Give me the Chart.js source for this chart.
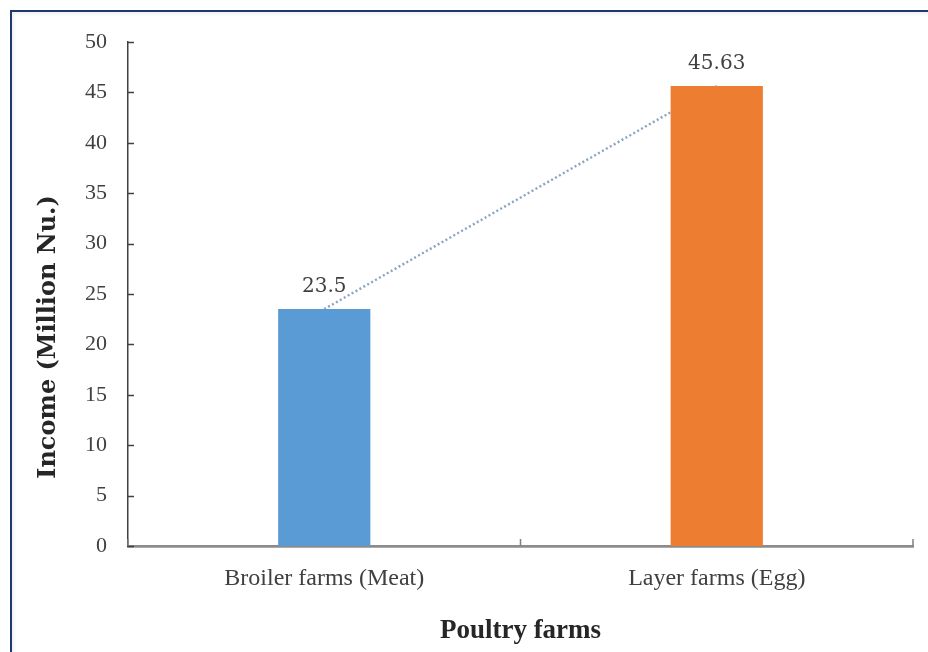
<!DOCTYPE html>
<html>
<head>
<meta charset="utf-8">
<script src="https://cdn.jsdelivr.net/npm/chart.js@4.4.1/dist/chart.umd.min.js"></script>
<style>
  html, body { margin: 0; padding: 0; background: #ffffff; }
  #wrap { position: relative; width: 928px; height: 652px; overflow: hidden; }
  #frame {
    position: absolute; left: 10px; top: 10px; right: -10px; bottom: -10px;
    border-left: 2px solid #1f3a70; border-top: 2px solid #1f3a70;
    box-shadow: inset 2px 2px 3px rgba(0,0,0,0.06);
  }
  canvas { position: absolute; left: 0; top: 0; }
</style>
</head>
<body>
<div id="wrap">
  <div id="frame"></div>
  <canvas id="chart" width="928" height="652"></canvas>
</div>
<script>
// Income by type of poultry farm
const categories = ['Broiler farms (Meat)', 'Layer farms (Egg)'];
const income = [23.5, 45.63];
const barColors = ['#5b9bd5', '#ed7d31'];
const yTicks = [0, 5, 10, 15, 20, 25, 30, 35, 40, 45, 50];
const yTitle = 'Income (Million Nu.)';
const xTitle = 'Poultry farms';

const serif = '"Liberation Serif", "DejaVu Serif", serif';
const wideSerif = '"DejaVu Serif", "Liberation Serif", serif';
const textGrey = '#404040';

// Inward tick marks on the value axis and upward marks at category boundaries
const innerTicks = {
  id: 'innerTicks',
  afterDraw(chart) {
    const { ctx, scales: { x, y } } = chart;
    ctx.save();
    ctx.strokeStyle = '#404040';
    ctx.lineWidth = 1.5;
    yTicks.forEach(v => {
      const py = Math.round(y.getPixelForValue(v)) + 0.5;
      ctx.beginPath();
      ctx.moveTo(x.left, py);
      ctx.lineTo(x.left + 6, py);
      ctx.stroke();
    });
    ctx.strokeStyle = '#7f7f7f';
    const n = categories.length;
    for (let i = 0; i <= n; i++) {
      const px = x.getPixelForValue(i - 0.5);
      ctx.beginPath();
      ctx.moveTo(px, y.bottom);
      ctx.lineTo(px, y.bottom - 7);
      ctx.stroke();
    }
    ctx.restore();
  }
};

// Value labels above each bar, and the rotated value-axis title
const labelsPlugin = {
  id: 'labelsPlugin',
  afterDatasetsDraw(chart) {
    const { ctx, scales: { y } } = chart;
    const meta = chart.getDatasetMeta(0);
    ctx.save();
    ctx.font = '20px ' + wideSerif;
    ctx.fillStyle = textGrey;
    ctx.textAlign = 'center';
    ctx.textBaseline = 'middle';
    meta.data.forEach((bar, i) => {
      ctx.fillText(String(income[i]), bar.x, bar.y - 22);
    });
    ctx.restore();

    ctx.save();
    ctx.translate(49, (y.top + y.bottom) / 2 + 43);
    ctx.rotate(-Math.PI / 2);
    ctx.font = 'bold 24px ' + wideSerif;
    ctx.fillStyle = '#262626';
    ctx.textAlign = 'center';
    ctx.textBaseline = 'middle';
    ctx.fillText(yTitle, 0, 0);
    ctx.restore();
  }
};

new Chart(document.getElementById('chart'), {
  data: {
    labels: categories,
    datasets: [
      {
        type: 'bar',
        data: income,
        backgroundColor: barColors,
        borderWidth: 0,
        barPercentage: 0.235,
        categoryPercentage: 1,
        order: 1
      },
      {
        type: 'line',
        data: income,
        borderColor: '#8aa3c4',
        borderWidth: 2.4,
        borderDash: [2, 2.5],
        pointRadius: 0,
        fill: false,
        tension: 0,
        order: 2
      }
    ]
  },
  options: {
    responsive: false,
    animation: false,
    devicePixelRatio: 1,
    layout: { padding: { top: 42, right: 15, left: 0, bottom: 0 } },
    plugins: {
      legend: { display: false },
      tooltip: { enabled: false }
    },
    scales: {
      x: {
        grid: { display: false },
        border: { display: true, color: '#8c8c8c', width: 2.8 },
        ticks: {
          color: textGrey,
          font: { family: serif, size: 24 },
          padding: 10
        },
        title: {
          display: true,
          text: xTitle,
          color: '#262626',
          font: { family: serif, size: 27, weight: 'bold' },
          padding: { top: 0, bottom: 5 }
        },
        afterFit(scale) { scale.height = 106; }
      },
      y: {
        min: 0,
        max: 50,
        afterBuildTicks(scale) { scale.ticks = yTicks.map(v => ({ value: v })); },
        grid: { display: false, drawTicks: false },
        border: { display: true, color: '#404040', width: 1.5 },
        ticks: {
          color: textGrey,
          font: { family: serif, size: 22 },
          padding: 21
        },
        title: { display: false },
        afterFit(scale) { scale.width = 128; }
      }
    }
  },
  plugins: [innerTicks, labelsPlugin]
});
</script>
</body>
</html>
